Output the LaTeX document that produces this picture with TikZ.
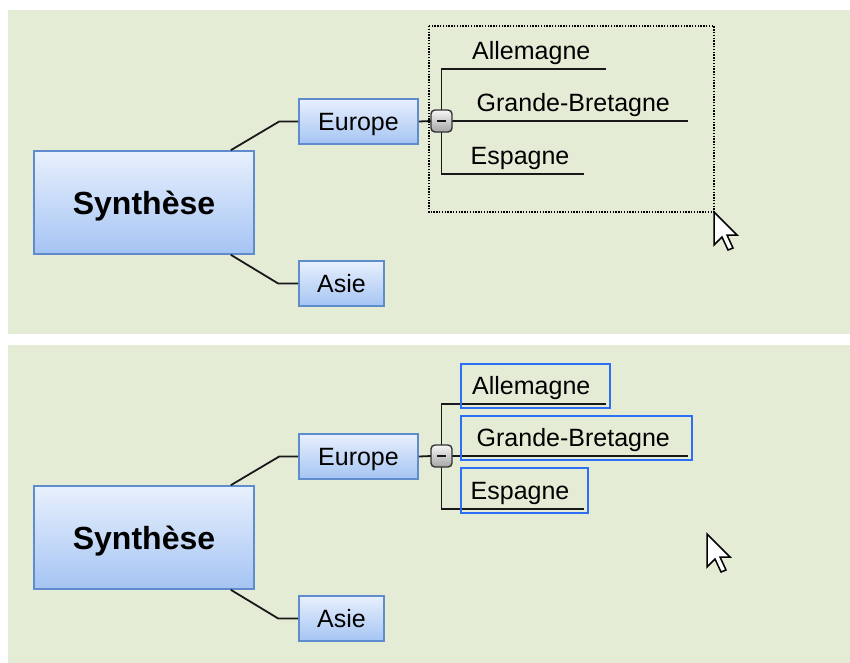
\documentclass[tikz,border=0pt]{standalone}
\usepackage{fontspec}
\setmainfont{Liberation Sans}
\definecolor{panelbg}{RGB}{229,236,214}
\definecolor{boxtop}{RGB}{232,240,253}
\definecolor{boxbot}{RGB}{165,196,243}
\definecolor{boxborder}{RGB}{95,140,205}
\definecolor{linecol}{RGB}{25,25,25}
\definecolor{btntop}{RGB}{246,246,246}
\definecolor{btnbot}{RGB}{165,165,165}
\definecolor{btnborder}{RGB}{50,50,50}
\definecolor{selblue}{RGB}{45,110,245}
\tikzset{
  topic/.style={draw=boxborder, line width=1.6pt, top color=boxtop, bottom color=boxbot,
    text=black, inner sep=0pt, text height=18pt, text depth=0pt,
    font=\fontsize{25}{30}\selectfont},
  central/.style={topic, text height=23pt, font=\fontsize{32}{38}\selectfont\bfseries},
  childtext/.style={inner sep=0pt, anchor=base west, text=black, font=\fontsize{25}{30}\selectfont},
  conn/.style={draw=linecol, line width=1.8pt},
  toggle/.style={draw=btnborder, line width=1.4pt, rounded corners=4pt, top color=btntop,
    bottom color=btnbot, minimum width=21pt, minimum height=22pt, inner sep=0pt},
  selbox/.style={draw=selblue, line width=1.8pt},
  dotbox/.style={draw=black, line width=1.4pt, dash pattern=on 1.4pt off 1.4pt},
  pointer/.style={fill=white, draw=black, line width=1.5pt, line join=miter}
}
\newcommand{\mmpanel}[1]{%
  \fill[panelbg] (8,10) rectangle (850,334);
  \node[central, minimum width=220pt, minimum height=103pt] (#1syn) at (144,202.5) {Synthèse};
  \node[topic, minimum width=119pt, minimum height=45pt] (#1eur) at (358.5,121.5) {Europe};
  \node[topic, minimum width=85pt, minimum height=45pt] (#1asi) at (341.5,283.5) {Asie};
  \draw[conn] ([xshift=-24pt]#1syn.north east) -- ([xshift=-19pt]#1eur.west) -- (#1eur.west);
  \draw[conn] ([xshift=-24pt]#1syn.south east) -- ([xshift=-20pt]#1asi.west) -- (#1asi.west);
  \coordinate (#1ae) at (606,69);
  \coordinate (#1ge) at (688,121);
  \coordinate (#1ee) at (584,174);
  \node[childtext] (#1all) at (472,59.3) {Allemagne};
  \node[childtext] (#1gb) at (476.5,111.7) {Grande-Bretagne};
  \node[childtext] (#1esp) at (470.5,164) {Espagne};
  \draw[conn] (#1eur.east) -- (431,121);
  \draw[conn] (441.5,110) |- (#1ae);
  \draw[conn] (441.5,132) |- (#1ee);
  \draw[conn] (452,121) -- (#1ge);
  \node[toggle] (#1btn) at (441.5,121) {};
  \draw[line width=2pt, linecol] ([xshift=-4.5pt]#1btn.center) -- ([xshift=4.5pt]#1btn.center);
}
\newcommand{\mmpointer}[1]{%
  \draw[pointer] #1 -- ++(0,33) -- ++(8,-8) -- ++(6,13) -- ++(5,-2) -- ++(-6,-13) -- ++(10,0) -- cycle;
}
\begin{document}
\begin{tikzpicture}[x=1pt, y=-1pt]
  \useasboundingbox (0,0) rectangle (850,662);
  \fill[white] (0,0) rectangle (850,662);
  % top panel
  \mmpanel{t}
  \draw[dotbox] (429,26) rectangle (714,212);
  \mmpointer{(714,212)}
  % bottom panel
  \begin{scope}[shift={(0,335)}]
    \begin{scope}
      \clip (0,0) rectangle (850,327);
      \mmpanel{b}
    \end{scope}
    \draw[selbox] (461,29) rectangle (610,73);
    \draw[selbox] (461,81) rectangle (692,125);
    \draw[selbox] (461,133) rectangle (588,178);
    \mmpointer{(707,199)}
  \end{scope}
\end{tikzpicture}
\end{document}
